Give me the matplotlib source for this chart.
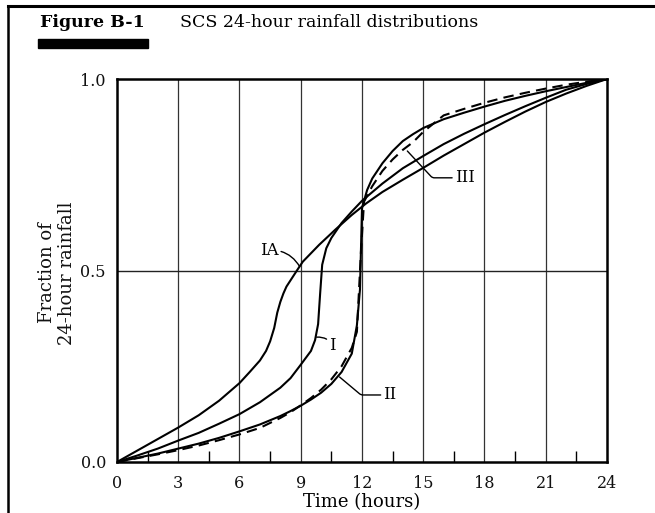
import numpy as np
import matplotlib
matplotlib.use('Agg')
import matplotlib.pyplot as plt
from matplotlib.lines import Line2D
from matplotlib.patches import Rectangle

plt.rcParams['font.family'] = ['DejaVu Serif']

# SCS 24-hour rainfall distributions (time in hours, cumulative fraction)
t_ia = [0, 1, 2, 3, 4, 5, 6, 6.5, 7, 7.3, 7.5, 7.7, 7.85, 8.0, 8.15, 8.3, 8.8, 9.1,
        9.9, 10.7, 11.5, 12.2, 13, 14, 15, 16, 17, 18, 19, 20, 21, 22, 23, 24]
f_ia = [0, 0.03, 0.06, 0.09, 0.122, 0.16, 0.206, 0.235, 0.265, 0.29, 0.315, 0.35,
        0.39, 0.418, 0.44, 0.458, 0.499, 0.523, 0.567, 0.607, 0.645, 0.675, 0.705,
        0.737, 0.768, 0.80, 0.83, 0.86, 0.888, 0.915, 0.94, 0.962, 0.982, 1.0]

t_i = [0, 1, 2, 3, 4, 5, 6, 7, 8, 8.5, 9, 9.5, 9.7, 9.85, 9.95, 10.05, 10.25, 10.5,
       11, 11.5, 12, 13, 14, 15, 16, 17, 18, 19, 20, 21, 22, 23, 24]
f_i = [0, 0.017, 0.035, 0.056, 0.076, 0.1, 0.125, 0.156, 0.194, 0.219, 0.254, 0.29,
       0.318, 0.36, 0.44, 0.515, 0.558, 0.585, 0.624, 0.654, 0.682, 0.727, 0.767,
       0.799, 0.830, 0.857, 0.882, 0.906, 0.929, 0.951, 0.972, 0.987, 1.0]

t_ii = [0, 1, 2, 3, 4, 5, 6, 7, 8, 8.5, 9, 9.5, 10, 10.5, 11, 11.5, 11.75, 11.9, 12,
        12.25, 12.5, 13, 13.5, 14, 14.5, 15, 16, 17, 18, 19, 20, 21, 22, 23, 24]
f_ii = [0, 0.011, 0.022, 0.035, 0.048, 0.063, 0.080, 0.098, 0.120, 0.133, 0.147,
        0.163, 0.181, 0.204, 0.235, 0.283, 0.357, 0.45, 0.663, 0.71, 0.74, 0.78,
        0.812, 0.838, 0.856, 0.872, 0.895, 0.912, 0.928, 0.943, 0.956, 0.968, 0.979,
        0.99, 1.0]

t_iii = [0, 1, 2, 3, 4, 5, 6, 7, 8, 8.5, 9, 9.5, 10, 10.5, 11, 11.5, 11.75, 11.95,
         12.1, 12.5, 13, 13.5, 14, 14.5, 15, 16, 17, 18, 19, 20, 21, 22, 23, 24]
f_iii = [0, 0.010, 0.020, 0.031, 0.043, 0.057, 0.072, 0.089, 0.115, 0.130, 0.148,
         0.167, 0.189, 0.216, 0.250, 0.298, 0.34, 0.55, 0.68, 0.72, 0.76, 0.79,
         0.815, 0.835, 0.862, 0.905, 0.922, 0.938, 0.952, 0.964, 0.975, 0.985,
         0.993, 1.0]

x_ticks = [0, 3, 6, 9, 12, 15, 18, 21, 24]
x_minor = [1.5, 4.5, 7.5, 10.5, 13.5, 16.5, 19.5, 22.5]
y_ticks = [0.0, 0.5, 1.0]

W, H = 655, 513
fig = plt.figure(figsize=(W / 100, H / 100), dpi=100)
ax = fig.add_axes([117 / W, 1 - 462 / H, 490 / W, 383 / H])

for x in x_ticks[1:-1]:
    ax.axvline(x, color='#333333', lw=0.9, zorder=1)
ax.axhline(0.5, color='#222222', lw=1.0, zorder=1)

ax.plot(t_ia, f_ia, color='black', lw=1.5, zorder=3)
ax.plot(t_i, f_i, color='black', lw=1.5, zorder=3)
ax.plot(t_ii, f_ii, color='black', lw=1.5, zorder=3)
ax.plot(t_iii, f_iii, color='black', lw=1.5, ls=(0, (5, 3)), zorder=4)

ax.set_xlim(0, 24)
ax.set_ylim(0, 1)
ax.set_xticks(x_ticks)
ax.set_xticks(x_minor, minor=True)
ax.set_yticks(y_ticks)
ax.set_yticklabels(['0.0', '0.5', '1.0'])
ax.tick_params(axis='both', which='major', length=0, labelsize=11.5, colors='#111111')
ax.tick_params(axis='x', which='major', pad=9)
ax.tick_params(axis='y', which='major', pad=8)
ax.tick_params(axis='x', which='minor', direction='in', length=8, width=1.0)
for s in ax.spines.values():
    s.set_linewidth(1.8)

lead = dict(arrowstyle='-', lw=1.0, color='black', shrinkA=0, shrinkB=0)
ax.annotate('III', xy=(14.22, 0.812), xytext=(16.55, 0.742), fontsize=12,
            va='center', ha='left',
            arrowprops=dict(lead, connectionstyle='angle,angleA=0,angleB=-47,rad=2'))
ax.annotate('II', xy=(10.9, 0.222), xytext=(13.05, 0.175), fontsize=12,
            va='center', ha='left',
            arrowprops=dict(lead, connectionstyle='angle,angleA=0,angleB=-40,rad=2'))
ax.annotate('I', xy=(9.78, 0.326), xytext=(10.4, 0.305), fontsize=12,
            va='center', ha='left',
            arrowprops=dict(lead, connectionstyle='arc3,rad=0.3'))
ax.annotate('IA', xy=(8.95, 0.51), xytext=(7.9, 0.553), fontsize=12,
            va='center', ha='right',
            arrowprops=dict(lead, connectionstyle='arc3,rad=-0.3'))

ax.set_xlabel('Time (hours)', fontsize=13, labelpad=1)
fig.text(57 / W, 1 - 273 / H, 'Fraction of\n24-hour rainfall', rotation=90,
         ha='center', va='center', fontsize=13, linespacing=1.1, color='#111111')

# page header
fig.text(40 / W, 1 - 27 / H, 'Figure B-1', fontsize=12.5, fontweight='bold',
         ha='left', va='baseline')
fig.text(180 / W, 1 - 27 / H, 'SCS 24-hour rainfall distributions', fontsize=12.5,
         ha='left', va='baseline')
fig.add_artist(Rectangle((38 / W, 1 - 48 / H), 110 / W, 9 / H,
                         transform=fig.transFigure, color='black'))
fig.add_artist(Line2D([8 / W, 1], [1 - 6 / H, 1 - 6 / H], transform=fig.transFigure,
                      color='black', lw=2.2))
fig.add_artist(Line2D([8 / W, 8 / W], [0, 1 - 6 / H], transform=fig.transFigure,
                      color='black', lw=1.8))

fig.savefig('out.png', dpi=100)
